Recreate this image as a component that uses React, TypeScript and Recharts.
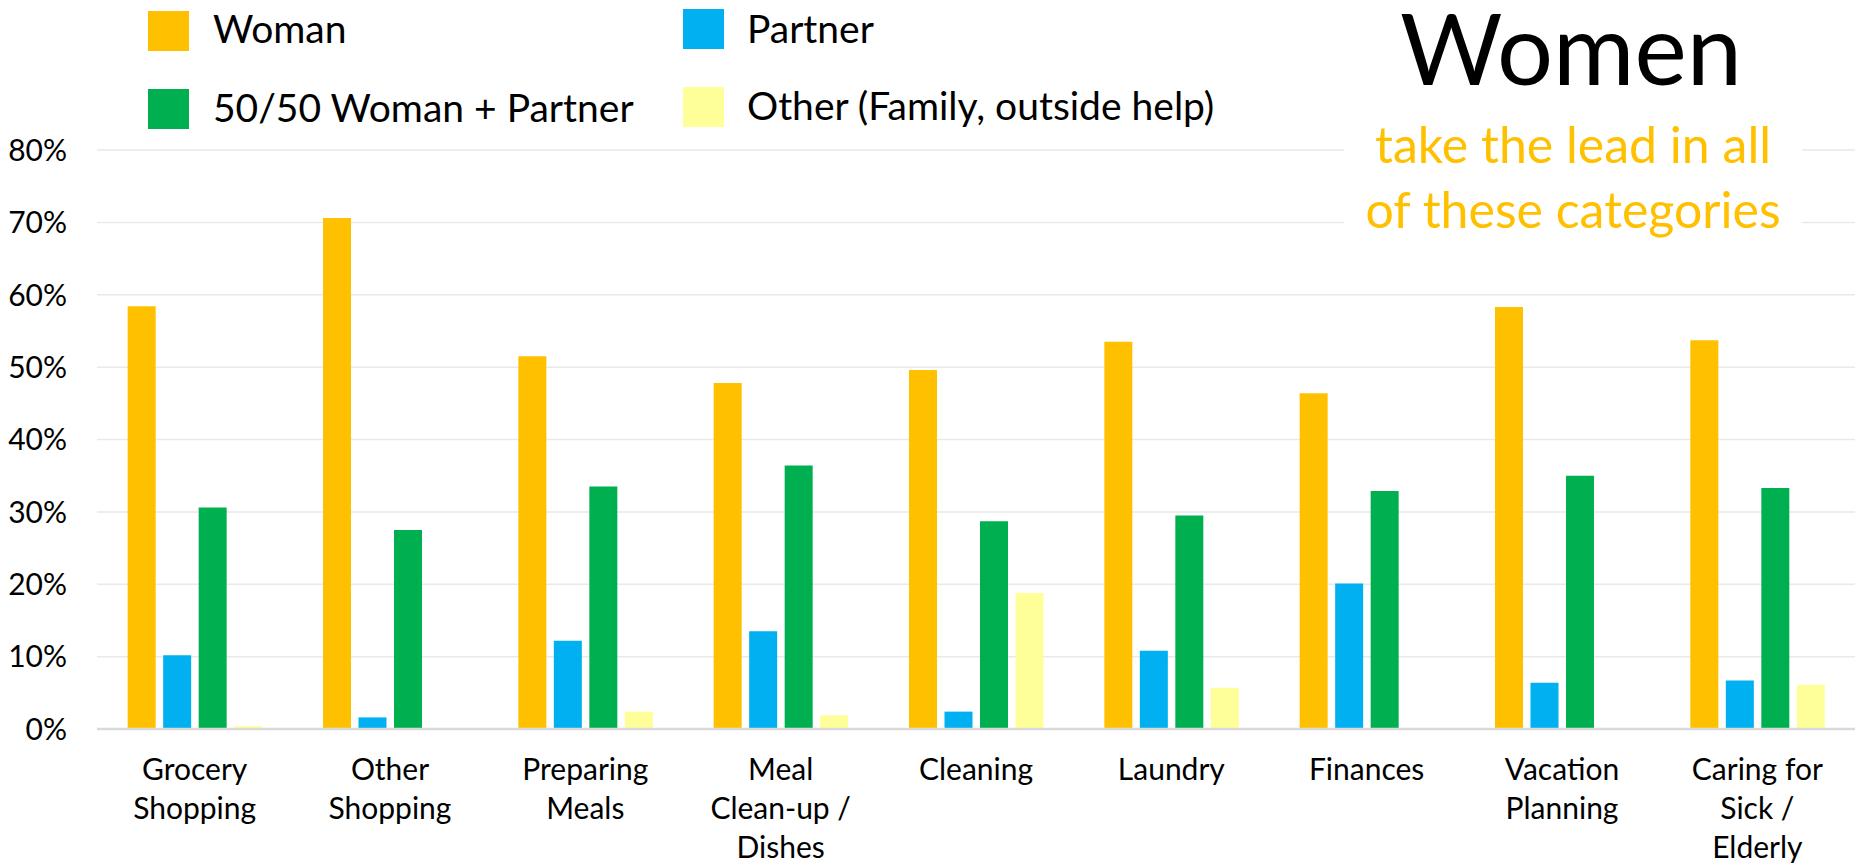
import { Bar, BarChart, CartesianGrid, Legend, XAxis, YAxis } from 'recharts';

const categories = [
    'Grocery\nShopping',
    'Other\nShopping',
    'Preparing\nMeals',
    'Meal\nClean-up /\nDishes',
    'Cleaning',
    'Laundry',
    'Finances',
    'Vacation\nPlanning',
    'Caring for\nSick /\nElderly',
];

const woman = [58.4, 70.6, 51.5, 47.8, 49.6, 53.5, 46.4, 58.3, 53.7];
const partner = [10.2, 1.6, 12.2, 13.5, 2.4, 10.8, 20.1, 6.4, 6.7];
const split = [30.6, 27.5, 33.5, 36.4, 28.7, 29.5, 32.9, 35.0, 33.3];
const other = [0.4, 0, 2.4, 1.9, 18.8, 5.7, 0.1, 0, 6.1];

const yTicks = [0, 10, 20, 30, 40, 50, 60, 70, 80];

const series = [
    { key: 'woman', label: 'Woman', color: '#FFC000' },
    { key: 'partner', label: 'Partner', color: '#00B0F0' },
    { key: 'split', label: '50/50 Woman + Partner', color: '#00B050' },
    { key: 'other', label: 'Other (Family, outside help)', color: '#FFFF99' },
];

const data = categories.map((name, i) => ({
    name,
    woman: woman[i],
    partner: partner[i],
    split: split[i],
    other: other[i],
}));

const FONT = 'Lato, "Open Sans", sans-serif';

function CategoryTick(props: any) {
    const { x, y, payload } = props;
    const lines = String(payload.value).split('\n');
    return (
        <text x={x} y={y + 51} textAnchor="middle" fontSize={30} fontFamily={FONT} fill="#000">
            {lines.map((line, i) => (
                <tspan key={i} x={x} dy={i === 0 ? 0 : 39}>
                    {line}
                </tspan>
            ))}
        </text>
    );
}

function PercentTick(props: any) {
    const { y, payload } = props;
    return (
        <text x={67} y={y} dy="0.36em" textAnchor="end" fontSize={30} fontFamily={FONT} fill="#000">
            {payload.value}%
        </text>
    );
}

// legend boxes + the big "Women" heading sit in one svg on top of the plot
const legendSpots = [
    { x: 148, y: 11, tx: 213, ty: 43 },
    { x: 683, y: 9, tx: 747, ty: 43 },
    { x: 148, y: 89, tx: 213, ty: 122 },
    { x: 683, y: 87, tx: 747, ty: 120 },
];

function LegendAndTitle() {
    return (
        <svg width={1862} height={280} style={{ display: 'block' }}>
            {series.map((s, i) => {
                const p = legendSpots[i];
                return (
                    <g key={s.key}>
                        <rect x={p.x} y={p.y} width={41} height={40} fill={s.color} />
                        <text x={p.tx} y={p.ty} fontSize={39} fontFamily={FONT} fill="#000">
                            {s.label}
                        </text>
                    </g>
                );
            })}
            <text x={1571} y={85} textAnchor="middle" fontSize={99} fontFamily={FONT} fill="#000">
                Women
            </text>
            <rect x={1344} y={116} width={458} height={150} fill="#fff" />
            <text x={1573} y={163} textAnchor="middle" fontSize={50} fontFamily={FONT} fill="#FFC000">
                take the lead in all
            </text>
            <text x={1573} y={228} textAnchor="middle" fontSize={50} fontFamily={FONT} fill="#FFC000">
                of these categories
            </text>
        </svg>
    );
}

export default function App() {
    return (
        <div style={{ position: 'absolute', left: 0, top: 0, background: '#fff' }}>
            <BarChart
                width={1862}
                height={863}
                data={data}
                margin={{ top: 150, right: 7, left: 0, bottom: 104 }}
                barCategoryGap="15.7%"
                barGap={7.5}
            >
                <CartesianGrid vertical={false} stroke="#e9e9e9" strokeWidth={1.5} />
                <XAxis
                    dataKey="name"
                    height={30}
                    interval={0}
                    tickLine={false}
                    tickSize={0}
                    tickMargin={0}
                    axisLine={{ stroke: '#d9d9d9', strokeWidth: 2.5 }}
                    tick={<CategoryTick />}
                />
                <YAxis
                    width={97}
                    domain={[0, 80]}
                    ticks={yTicks}
                    interval={0}
                    axisLine={false}
                    tickLine={false}
                    tick={<PercentTick />}
                />
                <Legend
                    layout="horizontal"
                    verticalAlign="middle"
                    align="center"
                    wrapperStyle={{ position: 'absolute', top: 0, left: 0, width: 1862, height: 280 }}
                    content={() => <LegendAndTitle />}
                />
                {series.map((s) => (
                    <Bar key={s.key} dataKey={s.key} name={s.label} fill={s.color} isAnimationActive={false} />
                ))}
            </BarChart>
        </div>
    );
}
